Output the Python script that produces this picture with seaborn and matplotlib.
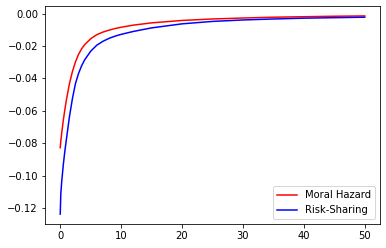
import matplotlib
matplotlib.use("Agg")
import matplotlib.pyplot as plt
import seaborn as sns
import pandas as pd

x_vals = [0, 0.1, 0.25, 0.5, 0.75, 1, 1.5, 2, 2.5, 3, 3.5, 4, 5, 6, 7, 8, 9,
          10, 12, 15, 20, 25, 30, 35, 40, 45, 50]
moral_hazard = [-0.0828, -0.0785, -0.0735, -0.0660, -0.0595, -0.0535, -0.0435,
                -0.0358, -0.0298, -0.0252, -0.0218, -0.0192, -0.0155, -0.0130,
                -0.0114, -0.0102, -0.0092, -0.0084, -0.0071, -0.0057, -0.0042,
                -0.0033, -0.0027, -0.0022, -0.0019, -0.0016, -0.0014]
risk_sharing = [-0.1238, -0.1110, -0.1035, -0.0935, -0.0852, -0.0780, -0.0640,
                -0.0525, -0.0432, -0.0370, -0.0323, -0.0286, -0.0232, -0.0195,
                -0.0171, -0.0153, -0.0139, -0.0128, -0.0110, -0.0088, -0.0063,
                -0.0048, -0.0039, -0.0033, -0.0028, -0.0025, -0.0022]
series_names = ["Moral Hazard", "Risk-Sharing"]
series_colors = ["red", "blue"]

df = pd.concat([
    pd.DataFrame({"x": x_vals, "y": moral_hazard, "series": series_names[0]}),
    pd.DataFrame({"x": x_vals, "y": risk_sharing, "series": series_names[1]}),
])

fig = plt.figure(figsize=(386 / 72, 248 / 72), dpi=72)
ax = fig.add_axes([45 / 386, 1 - 224 / 248, 335 / 386, 218 / 248])
sns.lineplot(data=df, x="x", y="y", hue="series",
             palette=dict(zip(series_names, series_colors)),
             linewidth=1.5, ax=ax, sort=False)
ax.set_xlabel("")
ax.set_ylabel("")
ax.legend(loc="lower right")
ax.set_xticks([0, 10, 20, 30, 40, 50])
fig.savefig("out.png", dpi=72)
